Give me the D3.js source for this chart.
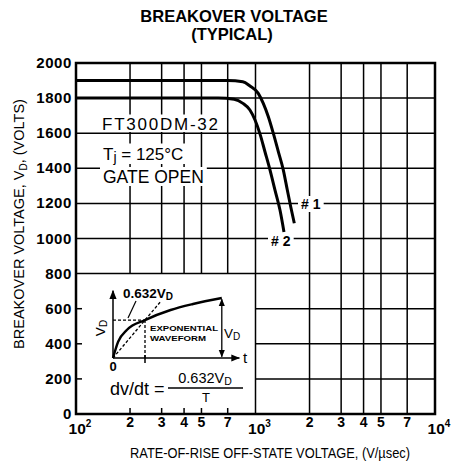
<!DOCTYPE html>
<html><head><meta charset="utf-8">
<script src="https://cdn.jsdelivr.net/npm/d3@7"></script>
<style>
html,body{margin:0;padding:0;background:#fff;}
text{font-family:"Liberation Sans",Arial,Helvetica,sans-serif;fill:#000;}
</style></head>
<body><svg id="c" width="451" height="466"></svg>
<script>
// ---- data ----
const yTicks = [0,200,400,600,800,1000,1200,1400,1600,1800,2000];
const xDecades = [100,1000,10000];
const xDecadeExp = ["2","3","4"];
const xMinor = [200,300,400,500,700,2000,3000,4000,5000,7000];
const xMinorLabels = ["2","3","4","5","7","2","3","4","5","7"];
const curve1Rate = [100, 700, 850, 931, 1036, 1105, 1179, 1256, 1340, 1429, 1504, 1571, 1645];
const curve1V    = [1900,1900,1893,1869,1827, 1770, 1694, 1600, 1495, 1390, 1276, 1181, 1087];
const curve2Rate = [100, 620, 760, 851, 931, 994, 1060, 1130, 1205, 1284, 1369, 1441];
const curve2V    = [1800,1800,1793,1770,1732,1675, 1595, 1493, 1390, 1276, 1162, 1037];
// inset (schematic exponential waveform), t in units of T, v in units of VD
const insetT = [0, 0.16, 0.44, 1, 1.8, 2.5, 3.4];
const insetV = [0, 0.27, 0.47, 0.632, 0.8, 0.9, 1.0];

const svg = d3.select("#c");
const L=76,R=435,T=63,B=414;
const x = d3.scaleLog().domain([100,10000]).range([L,R]);
const y = d3.scaleLinear().domain([0,2000]).range([B,T]);

// title
svg.append("text").attr("x",234).attr("y",22).attr("text-anchor","middle")
  .attr("font-size",16.5).attr("font-weight","bold").text("BREAKOVER VOLTAGE");
svg.append("text").attr("x",232).attr("y",40).attr("text-anchor","middle")
  .attr("font-size",16.5).attr("font-weight","bold").text("(TYPICAL)");

const grid = svg.append("g").attr("stroke","#000").attr("stroke-width",1.5);
// horizontal grid
yTicks.filter(v=>v>0&&v<2000).forEach(v=>{
  if(v>=800){
    grid.append("line").attr("x1",L).attr("x2",R).attr("y1",y(v)).attr("y2",y(v));
  } else {
    grid.append("line").attr("x1",x(1000)).attr("x2",R).attr("y1",y(v)).attr("y2",y(v));
    grid.append("line").attr("x1",L).attr("x2",L+6).attr("y1",y(v)).attr("y2",y(v));
  }
});
// vertical grid
xMinor.concat([1000]).forEach(r=>{
  if(r<1000){
    grid.append("line").attr("x1",x(r)).attr("x2",x(r)).attr("y1",T).attr("y2",y(800));
    grid.append("line").attr("x1",x(r)).attr("x2",x(r)).attr("y1",B).attr("y2",B-6);
  } else {
    grid.append("line").attr("x1",x(r)).attr("x2",x(r)).attr("y1",T).attr("y2",B);
  }
});

// annotation text with white boxes (box from cap top to just below baseline)
function boxed(g, tx, ty, cap, build, padX, padTop, padBot){
  const t = build(g.append("text").attr("x",tx).attr("y",ty));
  const bb = t.node().getBBox();
  g.insert("rect","text").attr("x",bb.x-padX).attr("y",ty-cap-padTop)
    .attr("width",bb.width+2*padX).attr("height",cap+padTop+padBot).attr("fill","#fff");
  return t;
}
const ann = svg.append("g");
const a1=ann.append("g"), a2=ann.append("g"), a3=ann.append("g"), a4=ann.append("g"), a5=ann.append("g");
boxed(a1,102,130,12.5,t=>t.attr("font-size",17).attr("textLength",116).attr("lengthAdjust","spacing").text("FT300DM-32"),2,3,2);
boxed(a2,103,160,12.5,t=>{t.attr("font-size",17);
  t.append("tspan").text("T"); t.append("tspan").attr("font-size",14).attr("dy",2).text("j");
  t.append("tspan").attr("dy",-2).text(" = 125°C"); return t;},2,4,4);
boxed(a3,103,183,13,t=>t.attr("font-size",17.5).text("GATE OPEN"),3,3,3);
boxed(a4,301,209,10,t=>t.attr("font-size",14).attr("font-weight","bold").text("# 1"),3,3,3);
boxed(a5,271,246,10,t=>t.attr("font-size",14).attr("font-weight","bold").text("# 2"),3,3,3);

// frame
svg.append("rect").attr("x",L).attr("y",T).attr("width",R-L).attr("height",B-T)
  .attr("fill","none").attr("stroke","#000").attr("stroke-width",2.5);

// curves
const line = d3.line().x(d=>x(d[0])).y(d=>y(d[1])).curve(d3.curveMonotoneX);
[[curve1Rate,curve1V],[curve2Rate,curve2V]].forEach(([rs,vs])=>{
  svg.append("path").attr("d",line(rs.map((r,i)=>[r,vs[i]])))
    .attr("fill","none").attr("stroke","#000").attr("stroke-width",3);
});

// y tick labels
yTicks.forEach(v=>{
  svg.append("text").attr("x",72).attr("y",y(v)+5).attr("text-anchor","end")
    .attr("font-size",15).attr("font-weight","bold").attr("letter-spacing",0.6).text(v);
});
// x tick labels
xDecades.forEach((r,i)=>{
  const t=svg.append("text").attr("x",x(r)+4).attr("y",434).attr("text-anchor","middle")
    .attr("font-size",15.5).attr("font-weight","bold");
  t.append("tspan").text("10");
  t.append("tspan").attr("font-size",10).attr("dy",-7).text(xDecadeExp[i]);
});
xMinor.forEach((r,i)=>{
  svg.append("text").attr("x",x(r)).attr("y",427).attr("text-anchor","middle")
    .attr("font-size",14).attr("font-weight","bold").text(xMinorLabels[i]);
});
// axis titles
svg.append("text").attr("x",270).attr("y",458).attr("text-anchor","middle")
  .attr("font-size",14).attr("textLength",280).attr("lengthAdjust","spacingAndGlyphs")
  .text("RATE-OF-RISE OFF-STATE VOLTAGE, (V/µsec)");
const yt=svg.append("text").attr("transform","translate(24,224) rotate(-90)").attr("text-anchor","middle")
  .attr("font-size",14.5);
yt.append("tspan").text("BREAKOVER VOLTAGE, V");
yt.append("tspan").attr("font-size",10).attr("dy",3).text("D");
yt.append("tspan").attr("dy",-3).text(", (VOLTS)");

// ---- inset ----
const ix = d3.scaleLinear().domain([0,1]).range([113,145]);
const iy = d3.scaleLinear().domain([0,1]).range([358,298]);
const defs = svg.append("defs");
defs.append("marker").attr("id","ah").attr("viewBox","0 0 10 10").attr("refX",9).attr("refY",5)
  .attr("markerWidth",6).attr("markerHeight",6).attr("orient","auto-start-reverse")
  .append("path").attr("d","M0,1 L10,5 L0,9 Z").attr("fill","#000");
const ins = svg.append("g").attr("stroke","#000").attr("fill","none");
ins.append("line").attr("x1",ix(0)).attr("y1",iy(0)).attr("x2",ix(0)).attr("y2",iy(1.12))
  .attr("stroke-width",1.5).attr("marker-end","url(#ah)");
ins.append("line").attr("x1",ix(0)).attr("y1",iy(0)).attr("x2",ix(3.95)).attr("y2",iy(0))
  .attr("stroke-width",1.5).attr("marker-end","url(#ah)");
ins.append("path").attr("d",d3.line().x((d,i)=>ix(insetT[i])).y(d=>iy(d)).curve(d3.curveMonotoneX)(insetV))
  .attr("stroke-width",2.4);
// dashed line through origin and knee
ins.append("line").attr("x1",ix(0)).attr("y1",iy(0)).attr("x2",ix(1.5)).attr("y2",iy(0.632*1.5))
  .attr("stroke-width",1.3).attr("stroke-dasharray","3,2");
ins.append("line").attr("x1",ix(0)).attr("y1",iy(0.632)).attr("x2",ix(1)).attr("y2",iy(0.632))
  .attr("stroke-width",1.3).attr("stroke-dasharray","3,2");
ins.append("line").attr("x1",ix(1)).attr("y1",iy(0.632)).attr("x2",ix(1)).attr("y2",iy(0))
  .attr("stroke-width",1.3).attr("stroke-dasharray","3,2");
// VD double arrow
ins.append("line").attr("x1",ix(3.4)).attr("y1",iy(0.02)).attr("x2",ix(3.4)).attr("y2",iy(0.98))
  .attr("stroke-width",1.3).attr("marker-end","url(#ah)").attr("marker-start","url(#ah)");
// leader
ins.append("line").attr("x1",136).attr("y1",301).attr("x2",128).attr("y2",318).attr("stroke-width",1.2);
ins.append("line").attr("x1",ix(1)).attr("y1",iy(0)-3).attr("x2",ix(1)).attr("y2",iy(0)+5).attr("stroke-width",1.5);

const lbl = svg.append("g");
let t1=lbl.append("text").attr("x",123).attr("y",298).attr("font-size",13.5).attr("font-weight","bold");
t1.append("tspan").text("0.632V"); t1.append("tspan").attr("font-size",10).attr("dy",2).text("D");
let t2=lbl.append("text").attr("transform","translate(105,328) rotate(-90)").attr("text-anchor","middle").attr("font-size",13.5);
t2.append("tspan").text("V"); t2.append("tspan").attr("font-size",10).attr("dy",2).text("D");
let t3=lbl.append("text").attr("x",224).attr("y",338).attr("font-size",13.5);
t3.append("tspan").text("V"); t3.append("tspan").attr("font-size",10).attr("dy",2).text("D");
lbl.append("text").attr("x",150).attr("y",331).attr("font-size",7.5).attr("font-weight","bold")
  .attr("textLength",68).attr("lengthAdjust","spacingAndGlyphs").text("EXPONENTIAL");
lbl.append("text").attr("x",150).attr("y",341).attr("font-size",7.5).attr("font-weight","bold")
  .attr("textLength",56).attr("lengthAdjust","spacingAndGlyphs").text("WAVEFORM");
lbl.append("text").attr("x",243).attr("y",363).attr("font-size",15).text("t");
lbl.append("text").attr("x",113).attr("y",371).attr("text-anchor","middle").attr("font-size",13).attr("font-weight","bold").text("0");
lbl.append("text").attr("x",110).attr("y",395).attr("font-size",18).text("dv/dt =");
let t4=lbl.append("text").attr("x",205).attr("y",383).attr("text-anchor","middle").attr("font-size",14.5);
t4.append("tspan").text("0.632V"); t4.append("tspan").attr("font-size",10.5).attr("dy",2).text("D");
svg.append("line").attr("x1",168).attr("x2",243).attr("y1",388).attr("y2",388).attr("stroke","#000").attr("stroke-width",1.3);
lbl.append("text").attr("x",206).attr("y",402).attr("text-anchor","middle").attr("font-size",13).text("T");
</script></body></html>
